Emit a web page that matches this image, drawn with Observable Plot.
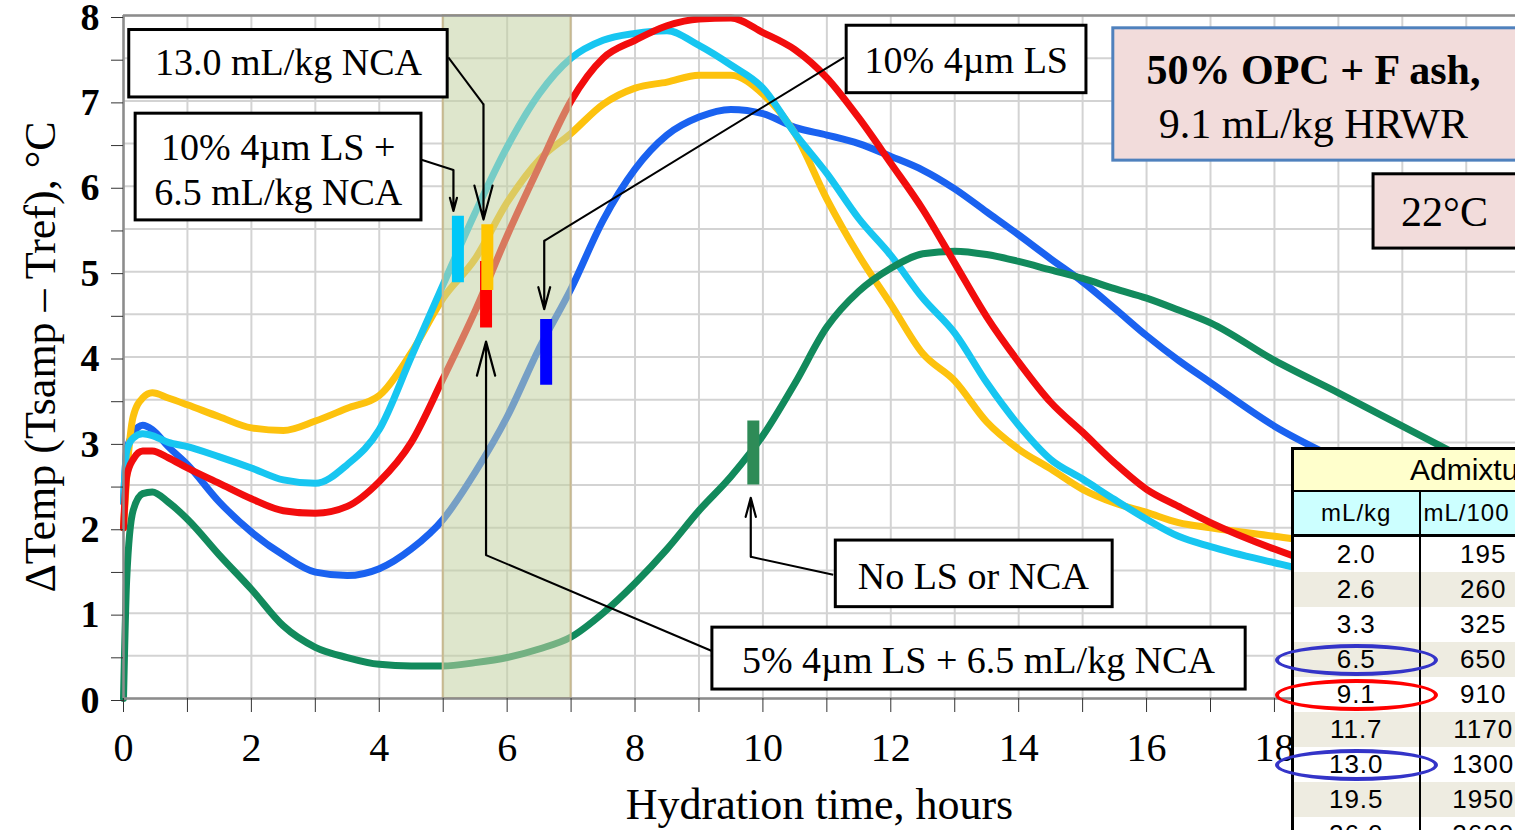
<!DOCTYPE html>
<html><head><meta charset="utf-8">
<script src="https://cdn.jsdelivr.net/npm/d3@7"></script>
<script src="https://cdn.jsdelivr.net/npm/@observablehq/plot@0.6"></script>
<style>
body{margin:0;background:#fff;}
#wrap{position:relative;width:1515px;height:830px;overflow:hidden;font-family:"Liberation Serif","Times New Roman",serif;}
#adm{position:absolute;left:1291px;top:447px;width:255px;min-width:255px;border-collapse:collapse;table-layout:fixed;border:3px solid #000;font-family:"Liberation Sans",Arial,sans-serif;background:#fff;}
#adm td{padding:0;white-space:nowrap;overflow:hidden;text-align:center;color:#000;}
#adm tr.hd td{background:#ffffcc;height:40px;font-size:30px;text-align:left;padding-left:116px;border-bottom:2px solid #000;}
#adm tr.sub td{background:#ccffff;height:42px;font-size:24px;border-bottom:3px solid #000;letter-spacing:1px;}
#adm tr.sub td.c2{text-align:left;padding-left:3px;}
#adm tr.d td{height:35px;font-size:26px;letter-spacing:1px;}
#adm tr.d.alt td{background:#eeece1;}
#adm td.c1{border-right:2.5px solid #000;}
.ell{position:absolute;border-radius:50%;box-sizing:border-box;}
</style></head><body><div id="wrap"><div id="chart"></div></div>
<script>
// ---- data ----
const hours = [0, 0.05, 0.15, 0.3, 0.45, 0.7, 1, 1.5, 2, 2.5, 3, 3.5, 4, 4.5, 5, 5.5, 6, 6.5, 7, 7.5, 8, 8.5, 9, 9.5, 10, 10.5, 11, 11.5, 12, 12.5, 13, 13.5, 14, 14.5, 15, 15.5, 16, 16.5, 17, 18, 19, 20, 21];
const cyanLS10NCA = [2.3, 2.9, 3.05, 3.1, 3.08, 3.0, 2.95, 2.83, 2.7, 2.56, 2.52, 2.74, 3.15, 4.0, 4.85, 5.69, 6.46, 7.08, 7.5, 7.71, 7.79, 7.82, 7.65, 7.42, 7.15, 6.62, 6.15, 5.62, 5.19, 4.69, 4.28, 3.7, 3.2, 2.8, 2.57, 2.33, 2.1, 1.9, 1.78, 1.59, 1.42, 1.3, 1.2];
const redLS5NCA = [2.0, 2.6, 2.8, 2.9, 2.9, 2.82, 2.7, 2.52, 2.34, 2.2, 2.17, 2.25, 2.54, 3.0, 3.75, 4.54, 5.42, 6.23, 7.0, 7.5, 7.71, 7.88, 7.96, 7.97, 7.8, 7.6, 7.27, 6.8, 6.27, 5.73, 5.1, 4.47, 3.94, 3.47, 3.12, 2.76, 2.45, 2.25, 2.06, 1.75, 1.5, 1.35, 1.25];
const yellowNCA13 = [2.0, 2.6, 3.3, 3.52, 3.58, 3.52, 3.44, 3.3, 3.17, 3.14, 3.25, 3.4, 3.55, 4.05, 4.69, 5.15, 5.81, 6.31, 6.62, 6.96, 7.15, 7.22, 7.3, 7.3, 7.08, 6.62, 5.85, 5.19, 4.62, 4.04, 3.72, 3.24, 2.92, 2.69, 2.45, 2.29, 2.18, 2.06, 2.0, 1.9, 1.8, 1.72, 1.65];
const blueLS10 = [2.3, 2.9, 3.1, 3.2, 3.15, 2.95, 2.74, 2.3, 1.95, 1.68, 1.48, 1.44, 1.52, 1.75, 2.1, 2.65, 3.3, 4.1, 4.8, 5.6, 6.2, 6.6, 6.81, 6.9, 6.85, 6.69, 6.6, 6.5, 6.35, 6.19, 5.97, 5.7, 5.43, 5.15, 4.88, 4.57, 4.25, 3.96, 3.7, 3.19, 2.8, 2.45, 2.15];
const greenNone = [0.0, 1.4, 2.2, 2.4, 2.42, 2.3, 2.1, 1.68, 1.28, 0.85, 0.6, 0.48, 0.4, 0.38, 0.38, 0.42, 0.48, 0.58, 0.72, 1.0, 1.35, 1.75, 2.2, 2.6, 3.08, 3.69, 4.35, 4.77, 5.04, 5.21, 5.24, 5.2, 5.12, 5.02, 4.92, 4.8, 4.69, 4.55, 4.4, 3.96, 3.58, 3.19, 2.8];

const seriesNames = ["10% 4µm LS", "13.0 mL/kg NCA", "10% 4µm LS + 6.5 mL/kg NCA", "No LS or NCA", "5% 4µm LS + 6.5 mL/kg NCA"];
const seriesValues = [blueLS10, yellowNCA13, cyanLS10NCA, greenNone, redLS5NCA];
const seriesColors = ["#1a62f0", "#fdc20e", "#17c6f1", "#128a5c", "#f20d0d"];

const bandHours = [5, 7];
const xTicks = d3.range(0, 19, 1);
const yTicks = d3.range(0, 8.01, 0.5);

// marker bars on curves: hour, low, high
const markerHours = [5.23, 5.67, 5.69, 6.61, 9.85];
const markerLow = [4.87, 4.34, 4.78, 3.67, 2.5];
const markerHigh = [5.65, 5.12, 5.55, 4.44, 3.25];
const markerColors = ["#00c8f8", "#ff0000", "#ffc600", "#0000ff", "#2e8b57"];

// annotation callout boxes (data units)
const boxX1 = [0.09, 0.19, 11.31, 11.14, 9.21, 15.48, 19.55];
const boxX2 = [5.07, 4.66, 15.06, 15.47, 17.55, 21.85, 21.85];
const boxY1 = [7.04, 5.60, 7.09, 1.07, 0.105, 6.30, 5.27];
const boxY2 = [7.83, 6.85, 7.88, 1.85, 0.83, 7.85, 6.14];
const boxFill = ["#fff", "#fff", "#fff", "#fff", "#fff", "#f2dcdb", "#f2dcdb"];
const boxStroke = ["#000", "#000", "#000", "#000", "#000", "#4f81bd", "#000"];

const labelText = ["13.0 mL/kg NCA", "10% 4µm LS +", "6.5 mL/kg NCA", "10% 4µm LS", "No LS or NCA", "5% 4µm LS + 6.5 mL/kg NCA", "9.1 mL/kg HRWR", "22°C"];
const labelX = [2.58, 2.42, 2.42, 13.18, 13.29, 13.37, 18.61, 20.66];
const labelY = [7.44, 6.45, 5.92, 7.47, 1.43, 0.445, 6.72, 5.69];
const labelSize = [38, 38, 38, 38, 38, 38, 42, 42];
const titleBoxText = ["50% OPC + F ash,"];
const titleBoxX = [18.61];
const titleBoxY = [7.35];

// leader lines: start, bend, arrow tip
const leaderStartX = [5.08, 4.66, 11.27, 11.1, 9.22];
const leaderStartY = [7.51, 6.31, 7.51, 1.45, 0.55];
const leaderBendX = [5.63, 5.16, 6.58, 9.81, 5.67];
const leaderBendY = [6.96, 6.19, 5.36, 1.66, 1.68];
const leaderTipX = [5.63, 5.16, 6.58, 9.81, 5.67];
const leaderTipY = [5.61, 5.71, 4.56, 2.35, 4.18];

// admixture table
const mlPerKg = ["2.0", "2.6", "3.3", "6.5", "9.1", "11.7", "13.0", "19.5", "26.0"];
const mlPer100kg = ["195", "260", "325", "650", "910", "1170", "1300", "1950", "2600"];

// ---- build ----
const rows = seriesNames.flatMap((name, s) => hours.map((h, i) => ({hour: h, temp: seriesValues[s][i], series: name, color: seriesColors[s]})));
const markers = markerHours.map((h, i) => ({hour: h, lo: markerLow[i], hi: markerHigh[i], color: markerColors[i]}));
const boxes = boxX1.map((x, i) => ({x1: x, x2: boxX2[i], y1: boxY1[i], y2: boxY2[i], fill: boxFill[i], stroke: boxStroke[i]}));
const labels = labelText.map((t, i) => ({text: t, x: labelX[i], y: labelY[i], size: labelSize[i]}));
const titleLabels = titleBoxText.map((t, i) => ({text: t, x: titleBoxX[i], y: titleBoxY[i]}));
const leaders = leaderStartX.map((x, i) => ({x1: x, y1: leaderStartY[i], x2: leaderBendX[i], y2: leaderBendY[i], x3: leaderTipX[i], y3: leaderTipY[i]}));

const serif = "'Liberation Serif','Times New Roman',serif";

const chart = Plot.plot({
  width: 1515, height: 830,
  marginLeft: 123, marginRight: 0, marginTop: 15, marginBottom: 132,
  x: {domain: [0, 21.77]},
  y: {domain: [0, 8]},
  color: {type: "identity"},
  style: {fontFamily: serif, background: "white", color: "black"},
  marks: [
    Plot.gridX(d3.range(0, 22, 1), {stroke: "#d3d3d3", strokeOpacity: 1, strokeWidth: 2}),
    Plot.gridY(yTicks, {stroke: "#d3d3d3", strokeOpacity: 1, strokeWidth: 2}),
    ...seriesNames.map(name => Plot.line(rows.filter(r => r.series === name), {x: "hour", y: "temp", stroke: "color", strokeWidth: 7, curve: "monotone-x"})),
    Plot.rect([{start: bandHours[0], end: bandHours[1]}], {x1: "start", x2: "end", y1: 0, y2: 8, fill: "#c3d2a2", fillOpacity: 0.55, stroke: "#c8b98f", strokeWidth: 2}),
    Plot.ruleX([0], {stroke: "#8c8c8c", strokeWidth: 2.5}),
    Plot.ruleY([0, 8], {stroke: "#8c8c8c", strokeWidth: 2.5}),
    Plot.ruleX(markers, {x: "hour", y1: "lo", y2: "hi", stroke: "color", strokeWidth: 12}),
    Plot.link(leaders, {x1: "x1", y1: "y1", x2: "x2", y2: "y2", stroke: "#000", strokeWidth: 2}),
    Plot.arrow(leaders, {x1: "x2", y1: "y2", x2: "x3", y2: "y3", stroke: "#000", strokeWidth: 2.2, headLength: 24, headAngle: 30}),
    Plot.rect(boxes, {x1: "x1", x2: "x2", y1: "y1", y2: "y2", fill: "fill", stroke: "stroke", strokeWidth: 3}),
    Plot.text(labels, {x: "x", y: "y", text: "text", fontSize: "size", fill: "#000", fontFamily: serif}),
    Plot.text(titleLabels, {x: "x", y: "y", text: "text", fontSize: 42, fontWeight: "bold", fill: "#000", fontFamily: serif}),
    Plot.axisY(yTicks, {tickSize: 12, tickPadding: 12, tickFormat: d => Number.isInteger(d) ? d : "", fontSize: 38, fontWeight: "bold", label: null, stroke: "#333", dy: 2}),
    Plot.axisX(xTicks, {tickSize: 14, tickPadding: 20, tickFormat: d => d % 2 === 0 ? d : "", fontSize: 40, label: null, stroke: "#333"}),
    Plot.text(["Hydration time, hours"], {frameAnchor: "bottom", dy: 120, fontSize: 44, fill: "#000"}),
    Plot.text(["ΔTemp (Tsamp – Tref), °C"], {frameAnchor: "left", textAnchor: "middle", rotate: -90, dx: -83, fontSize: 44, fill: "#000"})
  ]
});
document.getElementById("chart").appendChild(chart);

// admixture table overlay
const wrap = document.getElementById("wrap");
const tbl = document.createElement("table");
tbl.id = "adm";
let html = '<colgroup><col style="width:127px"><col style="width:128px"></colgroup>';
html += '<tr class="hd"><td colspan="2">Admixture Dosage</td></tr>';
html += '<tr class="sub"><td class="c1">mL/kg</td><td class="c2">mL/100 kg</td></tr>';
mlPerKg.forEach((v, i) => {
  html += `<tr class="d${i % 2 ? " alt" : ""}"><td class="c1">${v}</td><td class="c2">${mlPer100kg[i]}</td></tr>`;
});
tbl.innerHTML = html;
wrap.appendChild(tbl);

// highlight ellipses around 6.5, 9.1 and 13.0 rows
const highlighted = ["6.5", "9.1", "13.0"];
const hlColors = ["#3434c8", "#ff0000", "#3434c8"];
const trs = tbl.querySelectorAll("tr.d");
highlighted.forEach((v, k) => {
  const idx = mlPerKg.indexOf(v);
  const r = trs[idx].getBoundingClientRect();
  const e = document.createElement("div");
  e.className = "ell";
  e.style.left = "1275px";
  e.style.width = "163px";
  e.style.top = (r.top + r.height / 2 - 16) + "px";
  e.style.height = "32px";
  e.style.border = `4.5px solid ${hlColors[k]}`;
  wrap.appendChild(e);
});
</script></body></html>
